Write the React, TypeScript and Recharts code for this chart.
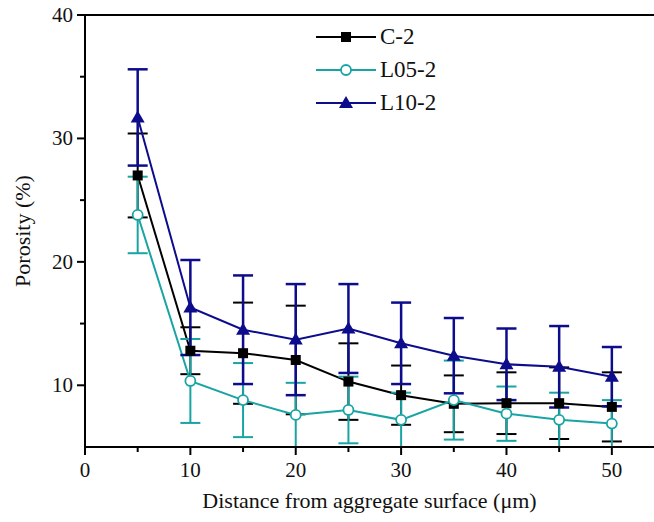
import { LineChart, Line, XAxis, YAxis, ErrorBar, ReferenceLine } from "recharts";

const distance = [5, 10, 15, 20, 25, 30, 35, 40, 45, 50];
const c2 = [27.0, 12.8, 12.6, 12.05, 10.3, 9.2, 8.5, 8.55, 8.55, 8.25];
const c2Err = [3.4, 1.9, 4.1, 4.4, 3.1, 2.4, 2.3, 2.5, 2.9, 2.8];
const l05 = [23.8, 10.35, 8.8, 7.6, 8.0, 7.2, 8.8, 7.7, 7.2, 6.9];
const l05Err = [3.1, 3.4, 3.0, 2.6, 2.7, 2.2, 3.2, 2.2, 2.2, 1.9];
const l10 = [31.7, 16.3, 14.5, 13.7, 14.6, 13.4, 12.4, 11.7, 11.5, 10.7];
const l10Err = [3.9, 3.85, 4.4, 4.5, 3.6, 3.3, 3.05, 2.9, 3.3, 2.4];

const xTicks = [0, 5, 10, 15, 20, 25, 30, 35, 40, 45, 50];
const yTicks = [10, 15, 20, 25, 30, 35, 40];

const SERIF = '"Liberation Serif", "Times New Roman", serif';
const BLACK = "#000000";
const TEAL = "#19a4a4";
const NAVY = "#0c0c8c";

const data = distance.map((x, i) => ({
  x,
  c2: c2[i],
  c2Err: c2Err[i],
  l05: l05[i],
  l05Err: l05Err[i],
  l10: l10[i],
  l10Err: l10Err[i],
}));

const legendItems = [
  { key: "c2", label: "C-2", color: BLACK },
  { key: "l05", label: "L05-2", color: TEAL },
  { key: "l10", label: "L10-2", color: NAVY },
];

function Marker({ kind, cx, cy, color }: { kind: string; cx: number; cy: number; color: string }) {
  if (kind === "c2") {
    return <rect x={cx - 5} y={cy - 5} width={10} height={10} fill={color} />;
  }
  if (kind === "l05") {
    return <circle cx={cx} cy={cy} r={5} fill="#fff" stroke={color} strokeWidth={1.8} />;
  }
  return (
    <polygon
      points={`${cx},${cy - 7} ${cx - 7},${cy + 5} ${cx + 7},${cy + 5}`}
      fill={color}
    />
  );
}

function XTick(props: any) {
  const { x, y, payload } = props;
  const major = payload.value % 10 === 0;
  return (
    <g>
      <line x1={x} x2={x} y1={y} y2={y + (major ? 8 : 5)} stroke="#000" strokeWidth={2} />
      {major && (
        <text x={x} y={y + 30} textAnchor="middle" fontSize={21} fontFamily={SERIF} fill="#111">
          {payload.value}
        </text>
      )}
    </g>
  );
}

function YTick(props: any) {
  const { x, y, payload } = props;
  const major = payload.value % 10 === 0;
  return (
    <g>
      <line x1={x} x2={x - (major ? 8 : 5)} y1={y} y2={y} stroke="#000" strokeWidth={2} />
      {major && (
        <text x={x - 12} y={y + 7} textAnchor="end" fontSize={21} fontFamily={SERIF} fill="#111">
          {payload.value}
        </text>
      )}
    </g>
  );
}

export default function App() {
  return (
    <div style={{ position: "absolute", left: 0, top: 0, width: 654, height: 522, background: "#fff" }}>
      <LineChart
        width={654}
        height={522}
        data={data}
        margin={{ top: 15, right: 0, bottom: 0, left: 0 }}
      >
        <XAxis
          dataKey="x"
          type="number"
          domain={[0, 54]}
          ticks={xTicks}
          tickSize={0}
          tickMargin={0}
          tick={<XTick />}
          tickLine={false}
          axisLine={{ stroke: "#000", strokeWidth: 2 }}
          height={75}
          label={{
            value: "Distance from aggregate surface (μm)",
            position: "center",
            dy: 16,
            fontSize: 22,
            fontFamily: SERIF,
            fill: "#111",
          }}
        />
        <YAxis
          type="number"
          domain={[5, 40]}
          ticks={yTicks}
          tickSize={0}
          tickMargin={0}
          tick={<YTick />}
          tickLine={false}
          axisLine={{ stroke: "#000", strokeWidth: 2 }}
          width={85}
          label={{
            value: "Porosity (%)",
            angle: -90,
            position: "center",
            dx: -20,
            fontSize: 22,
            fontFamily: SERIF,
            fill: "#111",
          }}
        />
        <ReferenceLine y={40} stroke="#000" strokeWidth={2} />
        <Line
          dataKey="c2"
          stroke={BLACK}
          strokeWidth={2}
          isAnimationActive={false}
          dot={(p: any) => <Marker key={`c2-${p.index}`} kind="c2" cx={p.cx} cy={p.cy} color={BLACK} />}
        >
          <ErrorBar dataKey="c2Err" width={10} stroke={BLACK} strokeWidth={2} isAnimationActive={false} />
        </Line>
        <Line
          dataKey="l05"
          stroke={TEAL}
          strokeWidth={2}
          isAnimationActive={false}
          dot={(p: any) => <Marker key={`l05-${p.index}`} kind="l05" cx={p.cx} cy={p.cy} color={TEAL} />}
        >
          <ErrorBar dataKey="l05Err" width={10} stroke={TEAL} strokeWidth={2} isAnimationActive={false} />
        </Line>
        <Line
          dataKey="l10"
          stroke={NAVY}
          strokeWidth={2}
          isAnimationActive={false}
          dot={(p: any) => <Marker key={`l10-${p.index}`} kind="l10" cx={p.cx} cy={p.cy} color={NAVY} />}
        >
          <ErrorBar dataKey="l10Err" width={10} stroke={NAVY} strokeWidth={2.5} isAnimationActive={false} />
        </Line>
      </LineChart>
      <div style={{ position: "absolute", left: 314, top: 20 }}>
        {legendItems.map((item) => (
          <div key={item.key} style={{ display: "flex", alignItems: "center", height: 33 }}>
            <svg width={64} height={20}>
              <line x1={2} x2={62} y1={10} y2={10} stroke={item.color} strokeWidth={2} />
              <Marker kind={item.key} cx={32} cy={10} color={item.color} />
            </svg>
            <span style={{ fontFamily: SERIF, fontSize: 23, color: "#111", marginLeft: 2, lineHeight: "23px" }}>
              {item.label}
            </span>
          </div>
        ))}
      </div>
    </div>
  );
}
